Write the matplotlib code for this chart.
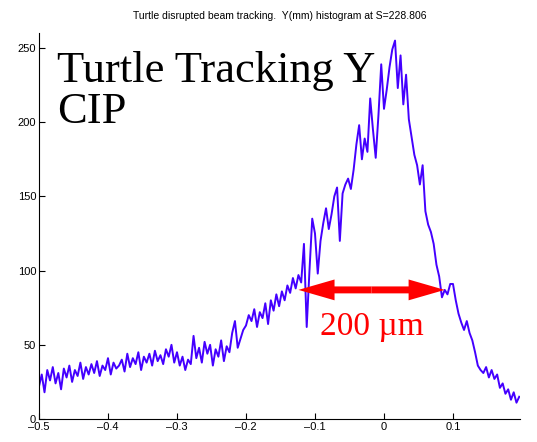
import numpy as np
import matplotlib
matplotlib.use('Agg')
from matplotlib import pyplot as plt

# histogram of Y (mm) at the IP, bin width 0.004 mm starting at -0.5
bin_start = -0.5
bin_width = 0.004
counts_a = [22, 30, 18, 33, 26, 35, 24, 31, 20, 34,
            28, 36, 25, 33, 29, 38, 27, 35, 30, 37,
            31, 39, 29, 36, 33, 41, 30, 38, 34, 36,
            40, 32, 44, 35, 41, 37, 45, 33, 42, 38,
            44, 36, 46, 39, 43, 37, 47, 42, 50, 38]
counts_b = [45, 36, 42, 33, 40, 37, 56, 41, 48, 38, 52, 44, 50,
            36, 47, 42, 53, 39, 49, 45, 58, 66, 48, 54, 60]
counts_c = [63, 70, 66, 74, 62, 72, 68, 78, 64, 80, 73, 84, 76,
            86, 80, 90, 85, 95, 88, 97, 92, 118, 62, 100, 135]
counts_d = [125, 98, 120, 132, 142, 128, 138, 150, 156, 120, 152, 158, 162,
            155, 168, 185, 198, 175, 189, 180, 216, 195, 176, 205, 239]
counts_e = [209, 222, 237, 249, 255, 223, 245, 212, 232, 202, 190, 178, 171,
            158, 171, 140, 131, 126, 118, 104, 96, 82, 87, 84, 91]
counts_f = [91, 80, 71, 65, 60, 66, 58, 53, 45, 36, 33, 31, 35,
            28, 33, 27, 30, 21, 24, 17, 20, 13, 18, 11, 15]
counts = np.array(counts_a + counts_b + counts_c + counts_d + counts_e + counts_f)
y_mm = bin_start + bin_width * np.arange(len(counts))

fwhm_left, fwhm_right, fwhm_level = -0.124, 0.088, 87
fwhm_label = '200 \u00b5m'

title = 'Turtle disrupted beam tracking.  Y(mm) histogram at S=228.806'
xticks = [-0.5, -0.4, -0.3, -0.2, -0.1, 0, 0.1]
xlabels = ['\u20130.5', '\u20130.4', '\u20130.3', '\u20130.2', '\u20130.1', '0', '0.1']
yticks = [0, 50, 100, 150, 200, 250]

plt.rcParams['font.family'] = ['Liberation Sans', 'DejaVu Sans']
serif = ['Liberation Serif', 'DejaVu Serif']

fig = plt.figure(figsize=(5.37, 4.42), dpi=100)
ax = fig.add_axes([0.0726, 0.052, 0.8956, 0.873])

ax.plot(y_mm, counts, color='#4400ff', lw=1.4)

ax.set_xlim(-0.5, 0.197)
ax.set_ylim(0, 260)
ax.set_xticks(xticks)
ax.set_xticklabels(xlabels)
ax.set_yticks(yticks)
ax.tick_params(direction='in', length=4, width=0.8, labelsize=8, pad=2)
for s in ['top', 'right']:
    ax.spines[s].set_visible(False)
for s in ['left', 'bottom']:
    ax.spines[s].set_linewidth(0.8)

ax.set_title(title, fontsize=7.5, pad=10)

ax.text(0.037, 0.955, 'Turtle Tracking Y\nCIP', transform=ax.transAxes,
        family=serif, fontsize=32, va='top', ha='left', linespacing=1.05)

# FWHM arrow: two filled arrows from the middle out to each edge
mid = (fwhm_left + fwhm_right) / 2
for end in (fwhm_left, fwhm_right):
    ax.annotate('', xy=(end, fwhm_level), xytext=(mid, fwhm_level),
                arrowprops=dict(arrowstyle='simple,head_length=2.6,head_width=1.5,tail_width=0.5',
                                color='red', lw=0, mutation_scale=10,
                                shrinkA=0, shrinkB=0))
ax.text(mid, 62, fwhm_label, color='red',
        family=serif, fontsize=24, ha='center', va='center')

fig.savefig('out.png', dpi=100)
